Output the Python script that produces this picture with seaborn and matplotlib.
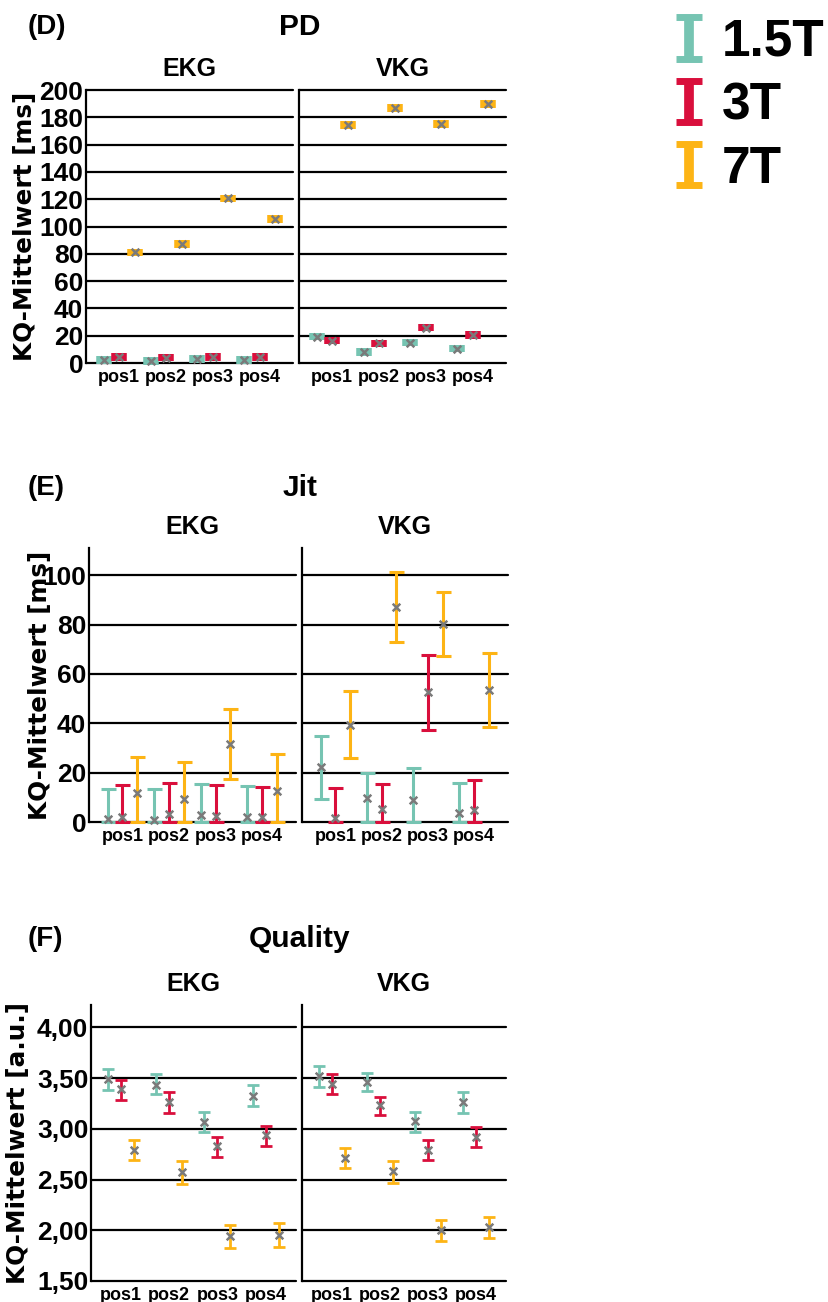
import matplotlib.pyplot as plt
import seaborn as sns
import pandas as pd
from matplotlib.lines import Line2D
from matplotlib.legend_handler import HandlerErrorbar

# ── DATA ──────────────────────────────────────────────────────────
positions = ['pos1', 'pos2', 'pos3', 'pos4']
strengths = ['1.5T', '3T', '7T']
facets = ['EKG', 'VKG']
colors = {'1.5T': '#76C4B2', '3T': '#D90F3C', '7T': '#FDB415'}

# (D) PD – mean and half width of the (very narrow) interval
pd_ekg_mean = {'1.5T': [2.2, 1.7, 2.9, 2.4], '3T': [4.2, 3.9, 4.6, 4.4], '7T': [81.0, 87.2, 120.6, 105.7]}
pd_vkg_mean = {'1.5T': [19.3, 8.1, 14.9, 10.5], '3T': [16.4, 14.4, 25.9, 20.5], '7T': [174.4, 186.6, 175.1, 189.7]}
pd_halfwidth = [2.8, 2.8, 2.8, 2.8]

# (E) Jit
jit_ekg_mean = {'1.5T': [1.2, 0.8, 3.0, 2.0], '3T': [2.2, 3.4, 2.4, 2.0], '7T': [11.9, 9.3, 31.4, 12.7]}
jit_ekg_lo = {'1.5T': [0, 0, 0, 0], '3T': [0, 0, 0, 0], '7T': [0, 0, 17.6, 0]}
jit_ekg_hi = {'1.5T': [13.5, 13.4, 15.5, 14.7], '3T': [15.1, 15.7, 14.9, 14.2], '7T': [26.2, 24.2, 45.7, 27.4]}
jit_vkg_mean = {'1.5T': [22.2, 9.6, 8.9, 3.5], '3T': [1.8, 5.3, 52.6, 4.9], '7T': [39.3, 87.0, 80.3, 53.4]}
jit_vkg_lo = {'1.5T': [9.5, 0, 0, 0], '3T': [0, 0, 37.3, 0], '7T': [25.8, 73.0, 67.3, 38.6]}
jit_vkg_hi = {'1.5T': [34.7, 19.7, 21.8, 15.7], '3T': [13.9, 15.5, 67.7, 17.0], '7T': [53.1, 101.1, 93.1, 68.6]}

# (F) Quality
q_ekg_mean = {'1.5T': [3.49, 3.43, 3.07, 3.32], '3T': [3.39, 3.26, 2.83, 2.94], '7T': [2.79, 2.57, 1.94, 1.95]}
q_ekg_lo = {'1.5T': [3.38, 3.34, 2.97, 3.22], '3T': [3.28, 3.16, 2.72, 2.83], '7T': [2.69, 2.46, 1.83, 1.84]}
q_ekg_hi = {'1.5T': [3.59, 3.54, 3.17, 3.43], '3T': [3.48, 3.36, 2.92, 3.03], '7T': [2.89, 2.68, 2.05, 2.07]}
q_vkg_mean = {'1.5T': [3.52, 3.46, 3.08, 3.26], '3T': [3.44, 3.23, 2.79, 2.92], '7T': [2.71, 2.58, 2.00, 2.03]}
q_vkg_lo = {'1.5T': [3.41, 3.37, 2.97, 3.16], '3T': [3.34, 3.14, 2.69, 2.82], '7T': [2.61, 2.47, 1.89, 1.92]}
q_vkg_hi = {'1.5T': [3.62, 3.55, 3.17, 3.36], '3T': [3.54, 3.31, 2.89, 3.02], '7T': [2.81, 2.68, 2.10, 2.13]}

quality_ticks = [1.5, 2.0, 2.5, 3.0, 3.5, 4.0]
quality_ticklabels = ['1,50', '2,00', '2,50', '3,00', '3,50', '4,00']

# ── BUILD LONG TABLE ──────────────────────────────────────────────
rows = []
def add(panel, facet, means, los, his):
    for s in strengths:
        for p, m, lo, hi in zip(positions, means[s], los[s], his[s]):
            rows.append(dict(panel=panel, facet=facet, strength=s, pos=p, mean=m, lo=lo, hi=hi))

for facet, means in zip(facets, [pd_ekg_mean, pd_vkg_mean]):
    lo = {s: [m - h for m, h in zip(means[s], pd_halfwidth)] for s in strengths}
    hi = {s: [m + h for m, h in zip(means[s], pd_halfwidth)] for s in strengths}
    add('PD', facet, means, lo, hi)
add('Jit', 'EKG', jit_ekg_mean, jit_ekg_lo, jit_ekg_hi)
add('Jit', 'VKG', jit_vkg_mean, jit_vkg_lo, jit_vkg_hi)
add('Quality', 'EKG', q_ekg_mean, q_ekg_lo, q_ekg_hi)
add('Quality', 'VKG', q_vkg_mean, q_vkg_lo, q_vkg_hi)
df = pd.DataFrame(rows)

# ── STYLE ─────────────────────────────────────────────────────────
sns.set_theme(style='white')
plt.rcParams['font.family'] = ['Liberation Sans', 'DejaVu Sans']
plt.rcParams['font.weight'] = 'bold'
for key in ['text.color', 'axes.labelcolor', 'xtick.color', 'ytick.color']:
    plt.rcParams[key] = 'black'

fig = plt.figure(figsize=(8.29, 13.02), dpi=100)
W, H = 829, 1302

def px_axes(x0, x1, y0, y1):
    return fig.add_axes([x0 / W, 1 - y1 / H, (x1 - x0) / W, (y1 - y0) / H])

panels = [
    dict(name='PD', letter='(D)', boxes=[(86, 293, 90, 363), (299, 506, 90, 363)], ylim=(0, 200),
         yticks=list(range(0, 201, 20)), offset=0.33, xlim=(-0.71, 3.71), ylabel='KQ-Mittelwert [ms]',
         labx=-0.295, ty=27),
    dict(name='Jit', letter='(E)', boxes=[(89, 296, 548, 822), (302, 508, 548, 822)], ylim=(0, 111),
         yticks=list(range(0, 101, 20)), offset=0.32, xlim=(-0.72, 3.73), ylabel='KQ-Mittelwert [ms]',
         labx=-0.237, ty=488),
    dict(name='Quality', letter='(F)', boxes=[(91, 296, 1005, 1281), (302, 506, 1005, 1281)], ylim=(1.5, 4.22),
         yticks=quality_ticks, offset=0.27, xlim=(-0.62, 3.63), ylabel='KQ-Mittelwert [a.u.]',
         labx=-0.356, ty=939),
]

legend_handles = None
for pnl in panels:
    for k, (facet, box) in enumerate(zip(facets, pnl['boxes'])):
        ax = px_axes(*box)
        sub = df[(df.panel == pnl['name']) & (df.facet == facet)].copy()
        sub['x'] = sub['pos'].map(positions.index) + (sub['strength'].map(strengths.index) - 1) * pnl['offset']
        handles = []
        for s in strengths:
            d = sub[sub.strength == s]
            yerr = [d['mean'] - d['lo'], d['hi'] - d['mean']]
            if pnl['name'] == 'PD':
                eb = ax.errorbar(d['x'], d['mean'], yerr=yerr, fmt='none', ecolor=colors[s],
                                 elinewidth=11.2, capsize=0, zorder=2)
            else:
                cs = 5.4 if pnl['name'] == 'Jit' else 4.6
                lw = 2.2 if pnl['name'] == 'Jit' else 2.0
                eb = ax.errorbar(d['x'], d['mean'], yerr=yerr, fmt='none', ecolor=colors[s],
                                 elinewidth=lw, capsize=cs, capthick=lw, zorder=2)
            handles.append(eb)
            for art in eb.lines[1] + eb.lines[2]:
                art.set_clip_on(False)
        if pnl['name'] == 'Quality' and k == 0:
            legend_handles = handles
        sns.scatterplot(data=sub, x='x', y='mean', marker='x', color='#7a7a7a', s=30,
                        linewidth=1.8, ax=ax, zorder=4, legend=False, clip_on=False)

        ax.set_xlim(*pnl['xlim'])
        ax.set_ylim(*pnl['ylim'])
        ax.set_yticks(pnl['yticks'])
        if pnl['name'] == 'Quality':
            ax.set_yticklabels(quality_ticklabels)
        ax.set_xticks(range(len(positions)), positions)
        ax.grid(axis='y', color='black', linewidth=1.6)
        ax.set_axisbelow(True)
        for gl in ax.get_ygridlines():
            gl.set_clip_on(False)
        for side in ['top', 'right', 'bottom']:
            ax.spines[side].set_visible(False)
        ax.spines['left'].set_color('black')
        ax.spines['left'].set_linewidth(1.6)
        ax.tick_params(axis='both', length=0)
        ax.tick_params(axis='x', pad=4, labelsize=13)
        ax.tick_params(axis='y', pad=2, labelsize=19)
        for t in ax.get_xticklabels() + ax.get_yticklabels():
            t.set_fontweight('bold')
        ax.set_xlabel('')
        ax.set_title(facet, fontsize=18, fontweight='bold', pad=10)
        if k == 0:
            ax.set_ylabel(pnl['ylabel'], fontsize=17.8, fontweight='bold', family='DejaVu Sans', va='center')
            ax.yaxis.set_label_coords(pnl['labx'], 0.5)
        else:
            ax.set_ylabel('')
            ax.tick_params(axis='y', labelleft=False)

    fig.text(28 / W, 1 - pnl['ty'] / H, pnl['letter'], fontsize=20, fontweight='bold', ha='left', va='center')
    fig.text(300 / W, 1 - pnl['ty'] / H, pnl['name'], fontsize=21.5, fontweight='bold', ha='center', va='center')

# ── LEGEND ────────────────────────────────────────────────────────
def thicken(leg_artist, orig):
    leg_artist.update_from(orig)
    if isinstance(leg_artist, Line2D):
        leg_artist.set_markersize(19)
        leg_artist.set_markeredgewidth(5)
    else:
        leg_artist.set_linewidth(7)

fig.legend(legend_handles, strengths, loc='upper left', bbox_to_anchor=(676 / W, 1 - 18 / H),
           frameon=False, prop=dict(weight='bold', size=37),
           handlelength=0.5, handletextpad=0.4, labelspacing=0.28, borderpad=0, borderaxespad=0,
           handler_map={type(legend_handles[0]): HandlerErrorbar(xerr_size=0.4, update_func=thicken)})

plt.savefig('out.png', dpi=100)
